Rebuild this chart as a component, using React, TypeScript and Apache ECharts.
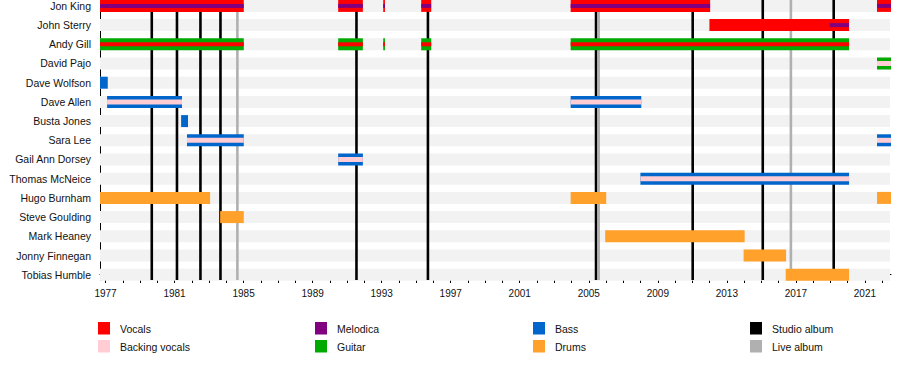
import React, { useEffect, useRef } from "react";
import * as echarts from "echarts";

const members = [
  "Jon King", "John Sterry", "Andy Gill", "David Pajo", "Dave Wolfson", "Dave Allen",
  "Busta Jones", "Sara Lee", "Gail Ann Dorsey", "Thomas McNeice", "Hugo Burnham",
  "Steve Goulding", "Mark Heaney", "Jonny Finnegan", "Tobias Humble",
];

const roleNames = ["Vocals", "Backing vocals", "Melodica", "Guitar", "Bass", "Drums", "Studio album", "Live album"];
const roleColors = ["#ff0000", "#ffcdd3", "#800080", "#00aa00", "#0066cc", "#ffa12b", "#000000", "#b0b0b0"];
const VOC = 0, BVOC = 1, MEL = 2, GTR = 3, BASS = 4, DRUMS = 5;

const jonKingPeriods = [[1976.68, 1985.01], [1990.48, 1991.91], [1993.09, 1993.19], [1995.29, 1995.87], [2003.95, 2012.03], [2021.70, 2022.51]];
const johnSterryVocals = [[2011.99, 2020.08]];
const johnSterryMelodica = [[2018.96, 2020.08]];
const andyGillPeriods = [[1976.68, 1985.01], [1990.48, 1991.91], [1993.09, 1993.19], [1995.29, 1995.87], [2003.95, 2020.08]];
const davidPajoPeriods = [[2021.70, 2022.51]];
const daveWolfsonPeriods = [[1976.68, 1977.13]];
const daveAllenPeriods = [[1977.09, 1981.43], [2003.95, 2008.04]];
const bustaJonesPeriods = [[1981.38, 1981.78]];
const saraLeePeriods = [[1981.72, 1985.01], [2021.70, 2022.51]];
const gailAnnDorseyPeriods = [[1990.48, 1991.91]];
const thomasMcNeicePeriods = [[2007.99, 2020.08]];
const hugoBurnhamPeriods = [[1976.68, 1983.06], [2003.95, 2006.01], [2021.70, 2022.51]];
const steveGouldingPeriods = [[1983.64, 1985.01]];
const markHeaneyPeriods = [[2005.95, 2014.03]];
const jonnyFinneganPeriods = [[2013.97, 2016.43]];
const tobiasHumblePeriods = [[2016.41, 2020.08]];

const studioAlbums = [1979.68, 1981.14, 1982.50, 1983.66, 1991.54, 1995.68, 2005.42, 2011.02, 2015.08, 2019.19];
const liveAlbums = [1984.64, 2005.57, 2016.71];

const yearLabels = [1977, 1981, 1985, 1989, 1993, 1997, 2001, 2005, 2009, 2013, 2017, 2021];
const yearTicks = Array.from({ length: 46 }, (_, i) => 1977 + i);

const X_MIN = 1976.68;
const X_MAX = 2022.51;

// [row, start, end, outer role (-1 = none), inner role (-1 = none)]
function buildSegments() {
  const segs: number[][] = [];
  const add = (member: string, periods: number[][], outer: number, inner: number) => {
    const row = members.indexOf(member);
    periods.forEach(([s, e]) => segs.push([s, e, members.length - 1 - row, outer, inner]));
  };
  add("Jon King", jonKingPeriods, VOC, MEL);
  add("John Sterry", johnSterryVocals, VOC, -1);
  add("John Sterry", johnSterryMelodica, -1, MEL);
  add("Andy Gill", andyGillPeriods, GTR, VOC);
  add("David Pajo", davidPajoPeriods, GTR, BVOC);
  add("Dave Wolfson", daveWolfsonPeriods, BASS, -1);
  add("Dave Allen", daveAllenPeriods, BASS, BVOC);
  add("Busta Jones", bustaJonesPeriods, BASS, -1);
  add("Sara Lee", saraLeePeriods, BASS, BVOC);
  add("Gail Ann Dorsey", gailAnnDorseyPeriods, BASS, BVOC);
  add("Thomas McNeice", thomasMcNeicePeriods, BASS, BVOC);
  add("Hugo Burnham", hugoBurnhamPeriods, DRUMS, -1);
  add("Steve Goulding", steveGouldingPeriods, DRUMS, -1);
  add("Mark Heaney", markHeaneyPeriods, DRUMS, -1);
  add("Jonny Finnegan", jonnyFinneganPeriods, DRUMS, -1);
  add("Tobias Humble", tobiasHumblePeriods, DRUMS, -1);
  return segs;
}

const FONT = '"Liberation Sans", Arial, sans-serif';

export default function App() {
  const ref = useRef<HTMLDivElement>(null);
  useEffect(() => {
    if (!ref.current) return;
    const chart = echarts.init(ref.current, null, { renderer: "svg" });
    const segments = buildSegments();
    const bandData = members.map((_, i) => [X_MIN, i]);
    const albumData = [
      ...studioAlbums.map((y) => [y, 0, 6]),
      ...liveAlbums.map((y) => [y, 0, 7]),
    ];

    const legendCols = [98, 315, 533, 750];
    const legendRows = [322, 340];
    const legendGraphics: any[] = [];
    roleNames.forEach((name, i) => {
      const cx = legendCols[Math.floor(i / 2)];
      const cy = legendRows[i % 2];
      legendGraphics.push({
        type: "rect",
        shape: { x: cx, y: cy, width: 12, height: 12.5 },
        style: { fill: roleColors[i] },
      });
      legendGraphics.push({
        type: "text",
        x: cx + 22,
        y: cy + 7,
        style: { text: name, fill: "#111", font: `10.5px ${FONT}`, verticalAlign: "middle", align: "left" },
      });
    });

    const BAR_H = 12;

    chart.setOption({
      animation: false,
      grid: { left: 100, right: 9, top: 0, height: 280 },
      xAxis: [
        {
          type: "value",
          min: X_MIN,
          max: X_MAX,
          position: "bottom",
          axisLine: { show: true, lineStyle: { color: "#000", width: 1 } },
          axisTick: { show: true, length: 5, customValues: yearLabels, lineStyle: { color: "#000" } },
          axisLabel: {
            customValues: yearLabels,
            color: "#111",
            fontSize: 10,
            fontFamily: FONT,
            margin: 8,
            formatter: (v: number) => String(Math.round(v)),
          },
          splitLine: { show: false },
        },
        {
          type: "value",
          min: X_MIN,
          max: X_MAX,
          position: "bottom",
          axisLine: { show: false },
          axisTick: { show: true, length: 3, customValues: yearTicks, lineStyle: { color: "#000" } },
          axisLabel: { show: false },
          splitLine: { show: false },
        },
      ],
      yAxis: {
        type: "value",
        min: -0.276,
        max: 14.307,
        axisLine: { show: true, lineStyle: { color: "#000", width: 1 } },
        axisTick: { show: false },
        splitLine: { show: false },
        axisLabel: {
          customValues: members.map((_, i) => i),
          color: "#111",
          fontSize: 10.5,
          fontFamily: FONT,
          margin: 9,
          formatter: (v: number) => members[members.length - 1 - Math.round(v)] ?? "",
        },
      },
      series: [
        {
          type: "custom",
          z: 1,
          silent: true,
          encode: { x: 0, y: 1 },
          data: bandData,
          renderItem: (params: any, api: any) => {
            const cs = params.coordSys;
            const yc = api.coord([X_MIN, api.value(1)])[1];
            return {
              type: "rect",
              shape: { x: cs.x, y: yc - BAR_H / 2, width: cs.width - 1, height: BAR_H },
              style: { fill: "#f2f2f2" },
            };
          },
        },
        {
          type: "custom",
          z: 2,
          silent: true,
          encode: { x: 0, y: 1 },
          data: albumData,
          renderItem: (params: any, api: any) => {
            const cs = params.coordSys;
            const x = api.coord([api.value(0), 0])[0];
            return {
              type: "line",
              shape: { x1: x, y1: cs.y, x2: x, y2: cs.y + cs.height },
              style: { stroke: roleColors[api.value(2)], lineWidth: 2.6 },
            };
          },
        },
        {
          type: "custom",
          z: 3,
          silent: true,
          encode: { x: [0, 1], y: 2 },
          data: segments,
          renderItem: (params: any, api: any) => {
            const s = api.coord([api.value(0), api.value(2)]);
            const e = api.coord([api.value(1), api.value(2)]);
            const outer = api.value(3);
            const inner = api.value(4);
            const children: any[] = [];
            if (outer >= 0) {
              children.push({
                type: "rect",
                shape: { x: s[0], y: s[1] - BAR_H / 2, width: e[0] - s[0], height: BAR_H },
                style: { fill: roleColors[outer] },
              });
            }
            if (inner >= 0) {
              const ih = inner === BVOC ? 5 : 4;
              children.push({
                type: "rect",
                shape: { x: s[0], y: s[1] - ih / 2, width: e[0] - s[0], height: ih },
                style: { fill: roleColors[inner] },
              });
            }
            return { type: "group", children };
          },
        },
      ],
      graphic: legendGraphics,
    });
    return () => chart.dispose();
  }, []);

  return (
    <div
      ref={ref}
      style={{ position: "fixed", left: 0, top: 0, width: 900, height: 370, background: "#fff" }}
    />
  );
}
